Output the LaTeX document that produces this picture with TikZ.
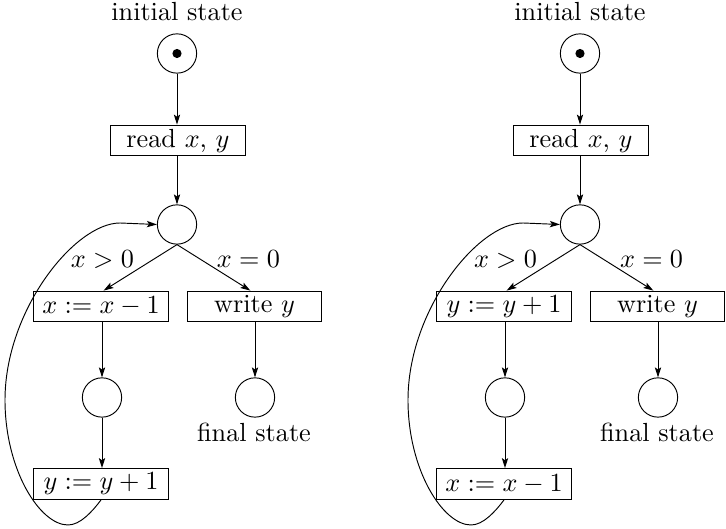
\documentclass[tikz,border=0pt]{standalone}
\usetikzlibrary{arrows.meta}
\newcommand\flowpart[4]{%
 \node[lab] (#1it) at ({#2+177},21) {initial state};
 \node[state] (#1s0) at ({#2+177},53.5) {};
 \node[dotn] (#1dot) at (#1s0) {};
 \node[act] (#1rd) at ({#2+178},140.5) {read $x$, $y$};
 \node[state] (#1c1) at ({#2+177},224.5) {};
 \node[act] (#1a1) at ({#2+101},306.5) {#3};
 \node[act] (#1w) at ({#2+254.5},306.5) {write $y$};
 \node[state] (#1c2) at ({#2+102},397.5) {};
 \node[state] (#1f) at ({#2+255},397.5) {};
 \node[lab] (#1fs) at ({#2+254},442) {final state};
 \node[act] (#1a2) at ({#2+101},484) {#4};
 \node[lab] (#1gt) at ({#2+102.5},268) {$x>0$};
 \node[lab] (#1eq) at ({#2+248.5},268) {$x=0$};
 \draw[flow] (#1s0.south) -- (#1s0.south |- #1rd.north);
 \draw[flow] (#1c1.north |- #1rd.south) -- (#1c1.north);
 \draw[flow] (#1c1.south) -- ([xshift=1pt]#1a1.north);
 \draw[flow] (#1c1.south) -- ([xshift=-1.6pt]#1w.north);
 \draw[flow] (#1c2.north |- #1a1.south) -- (#1c2.north);
 \draw[flow] (#1c2.south) -- (#1c2.south |- #1a2.north);
 \draw[flow] (#1f.north |- #1w.south) -- (#1f.north);
 \draw[flow] (#1a2.south) .. controls ({#2+92},512) and ({#2+80},525) .. ({#2+68},525)
   .. controls ({#2+40},525) and ({#2+5},470) .. ({#2+5},400)
   .. controls ({#2+5},310) and ({#2+75},223) .. ({#2+120},223) -- (#1c1.west);
}
\begin{document}
\begin{tikzpicture}[x=0.3817pt,y=-0.3817pt,line width=0.36pt,
  state/.style={circle,draw,minimum size=15pt,inner sep=0pt},
  dotn/.style={circle,fill,inner sep=0pt,minimum size=3.5pt},
  act/.style={rectangle,draw,minimum width=51.5pt,minimum height=11.8pt,inner sep=0pt},
  flow/.style={-{Stealth[length=3.8pt,width=2.4pt,inset=0.8pt]}},
  lab/.style={anchor=base,inner sep=0pt}]
\useasboundingbox (0,0) rectangle (726,529);
\flowpart{L}{0}{$x:=x-1$}{$y:=y+1$}
\flowpart{R}{403}{$y:=y+1$}{$x:=x-1$}
\end{tikzpicture}
\end{document}
